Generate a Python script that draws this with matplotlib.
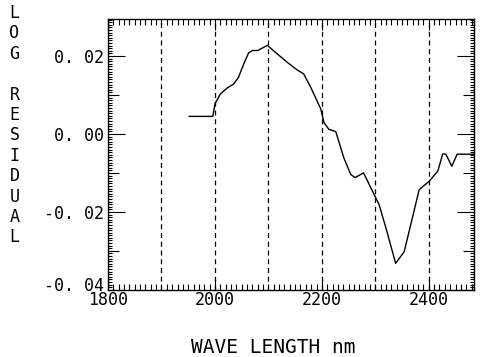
import numpy as np
import matplotlib.pyplot as plt
from matplotlib.ticker import MultipleLocator, FixedLocator, NullFormatter
from matplotlib.transforms import ScaledTranslation

# Data
wavelength = [1952, 1996, 2000, 2010, 2023, 2035, 2044, 2054, 2063, 2070, 2080,
              2098, 2116, 2135, 2154, 2166, 2179, 2198, 2204, 2213, 2226, 2241,
              2254, 2262, 2278, 2298, 2307, 2320, 2338, 2354, 2382, 2401, 2417,
              2426, 2432, 2443, 2453, 2490]
log_residual = [0.0045, 0.0045, 0.0077, 0.0102, 0.0118, 0.0128, 0.0145, 0.0180,
                0.0208, 0.0214, 0.0214, 0.0227, 0.0206, 0.0184, 0.0164, 0.0154,
                0.0120, 0.0064, 0.0029, 0.0012, 0.0006, -0.0061, -0.0104, -0.0112,
                -0.0100, -0.0156, -0.0181, -0.0242, -0.0332, -0.0302, -0.0143,
                -0.0121, -0.0095, -0.0051, -0.0052, -0.0083, -0.0052, -0.0052]
grid_x = [1900, 2000, 2100, 2200, 2300, 2400]
x_ticks = [1800, 2000, 2200, 2400]
y_ticks = [-0.04, -0.02, 0.00, 0.02]
y_ticklabels = ['-0. 04', '-0. 02', '0. 00', '0. 02']
y_mid_ticks = [-0.03, -0.01, 0.01]
ylabel_letters = list('LOG RESIDUAL')

FONT = 'DejaVu Sans Mono'

fig = plt.figure(figsize=(4.8, 3.57), dpi=100)
ax = fig.add_axes([0.225, 0.188, 0.763, 0.759])

ax.plot(wavelength, log_residual, color='black', lw=1.0)
for gx in grid_x:
    ax.axvline(gx, color='black', lw=0.9, ls=(0, (4, 3)))

ax.set_xlim(1800, 2485)
ax.set_ylim(-0.04, 0.0295)

ax.xaxis.set_major_locator(FixedLocator(x_ticks))
ax.xaxis.set_minor_locator(MultipleLocator(10))
ax.set_xticklabels([str(t) for t in x_ticks], family=FONT, fontsize=12)
ax.yaxis.set_major_locator(FixedLocator(y_ticks))
ax.yaxis.set_minor_locator(MultipleLocator(0.02 / 30))
ax.set_yticklabels(y_ticklabels, family=FONT, fontsize=12)

ax.tick_params(which='both', direction='in', top=True, right=True, width=0.8)
ax.tick_params(axis='x', which='major', length=8, pad=1)
ax.tick_params(axis='x', which='minor', length=4)
ax.tick_params(axis='y', which='major', length=12, pad=3)
ax.tick_params(axis='y', which='minor', length=3)

# the bottom y label sits a little higher than its tick
low = ax.get_yticklabels()[0]
low.set_transform(low.get_transform() + ScaledTranslation(0, 4 / 72, fig.dpi_scale_trans))

# medium ticks at the odd hundredths, both sides
for side in ['left', 'right']:
    sec = ax.secondary_yaxis(side)
    sec.yaxis.set_major_locator(FixedLocator(y_mid_ticks))
    sec.yaxis.set_major_formatter(NullFormatter())
    sec.tick_params(direction='in', length=8, width=0.8)
    sec.spines[side].set_visible(False)

for s in ax.spines.values():
    s.set_linewidth(1.0)

fig.text(0.569, 0.028, 'WAVE LENGTH nm', family=FONT, fontsize=14,
         ha='center', va='center')

y0, step = 1 - 13 / 357, 20.4 / 357
for i, ch in enumerate(ylabel_letters):
    if ch != ' ':
        fig.text(0.03, y0 - i * step, ch, family=FONT, fontsize=12,
                 ha='center', va='center')

fig.savefig('out.png', dpi=100)
